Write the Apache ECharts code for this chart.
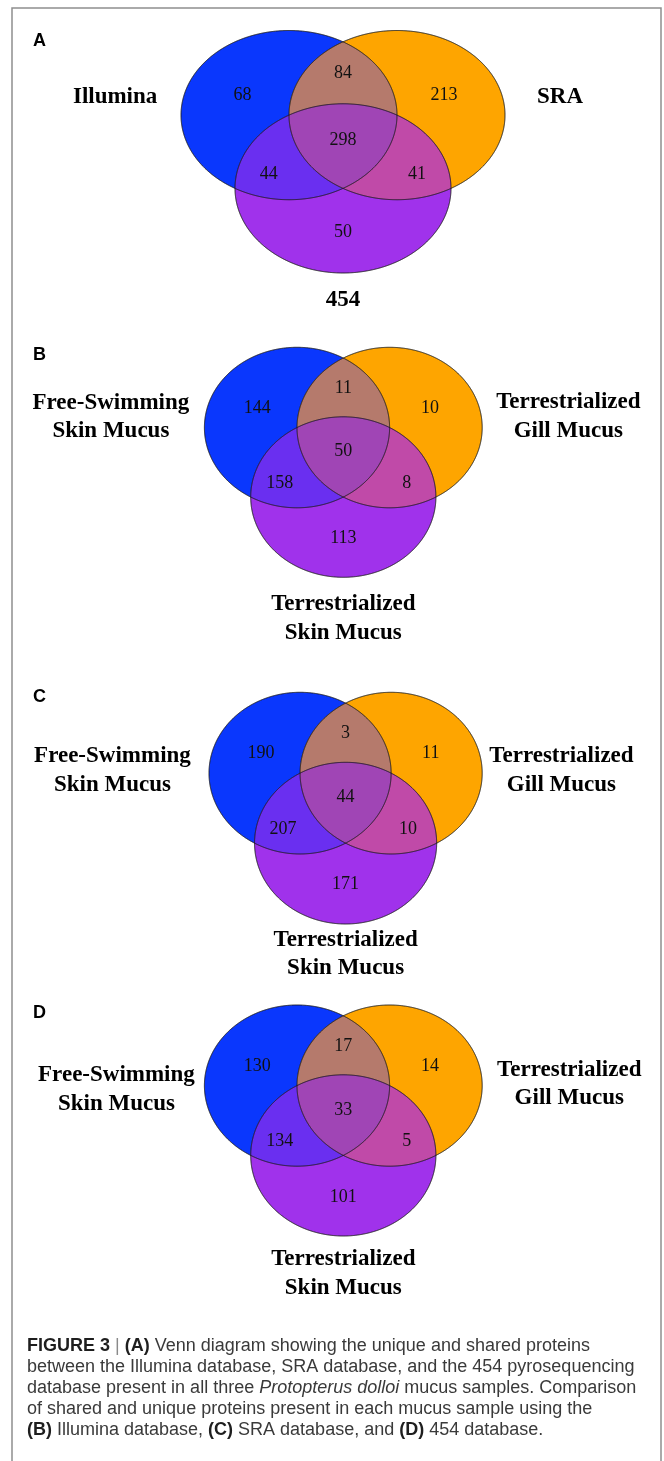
<!DOCTYPE html>
<html>
<head>
<meta charset="utf-8">
<script src="https://cdn.jsdelivr.net/npm/echarts@6/dist/echarts.min.js"></script>
<style>
  html, body { margin: 0; padding: 0; background: #fff; }
  #chart { width: 664px; height: 1461px; }
</style>
</head>
<body>
<div id="chart"></div>
<script>
// Region order in every count list:
// only set 1, only set 2, only set 3, 1∩2, 1∩3, 2∩3, 1∩2∩3
const panelLetters = ['A', 'B', 'C', 'D'];
const databaseSets = ['Illumina', 'SRA', '454'];
const mucusSets = ['Free-Swimming\nSkin Mucus', 'Terrestrialized\nGill Mucus', 'Terrestrialized\nSkin Mucus'];
const countsA = [68, 213, 50, 84, 44, 41, 298];
const countsB = [144, 10, 113, 11, 158, 8, 50];
const countsC = [190, 11, 171, 3, 207, 10, 44];
const countsD = [130, 14, 101, 17, 134, 5, 33];

const panels = [
  { letter: panelLetters[0], sets: databaseSets, counts: countsA },
  { letter: panelLetters[1], sets: mucusSets, counts: countsB },
  { letter: panelLetters[2], sets: mucusSets, counts: countsC },
  { letter: panelLetters[3], sets: mucusSets, counts: countsD }
];

// ---- layout -------------------------------------------------------------
// Each diagram lives in its own cartesian grid; circles have radius 1 in
// axis units and the grid stretches them into the wide ellipses.
const H3 = Math.sqrt(3) / 2;
const CENTERS = [[-0.5, 0], [0.5, 0], [0, -H3]];
const X_RANGE = [-1.5, 1.5];
const Y_RANGE = [-1 - H3, 1];

const GRIDS = [
  { left: 181,   top: 30.5,  width: 324,   height: 242.5 },
  { left: 204.4, top: 347.3, width: 277.8, height: 230 },
  { left: 209,   top: 692.3, width: 273.2, height: 231.7 },
  { left: 204.4, top: 1005,  width: 277.8, height: 231 }
];
const LETTER_Y = [41.5, 355, 697, 1013.5];

// set-name anchors (axis units) per panel: left, right, bottom
const SET_LABEL_POS = [
  [[-2.11, 0.218], [2.01, 0.218], [0, -2.18]],
  [[-2.51, 0.13],  [2.43, 0.14],  [0, -2.38]],
  [[-2.56, 0.03],  [2.37, 0.03],  [0, -2.24]],
  [[-2.45, -0.05], [2.44, 0.02],  [0, -2.33]]
];

const REGION_MEMBERS = [[0], [1], [2], [0, 1], [0, 2], [1, 2], [0, 1, 2]];
const REGION_ANCHORS = [
  [-0.93, 0.24], [0.935, 0.24], [0, -1.38],
  [0, 0.493], [-0.687, -0.694], [0.685, -0.694], [0, -0.3]
];
const REGION_COLORS = [
  '#0a37fd', '#fea500', '#a032eb',
  '#b57a6c', '#6a2ff0', '#c04aa8', '#a045b5'
];

const SERIF = '"Liberation Serif", "Times New Roman", serif';
const SANS = '"Liberation Sans", Arial, Helvetica, sans-serif';

// ---- geometry: outline of the intersection of several unit circles -----
const STEPS = 1440;
function inside(p, c) {
  const dx = p[0] - c[0], dy = p[1] - c[1];
  return dx * dx + dy * dy <= 1 + 1e-9;
}
function outline(members) {
  const pts = [];
  members.forEach(function (m) {
    const c = CENTERS[m];
    for (let s = 0; s < STEPS; s++) {
      const t = (s / STEPS) * Math.PI * 2;
      const p = [c[0] + Math.cos(t), c[1] + Math.sin(t)];
      if (members.every(function (o) { return o === m || inside(p, CENTERS[o]); })) pts.push(p);
    }
  });
  let mx = 0, my = 0;
  pts.forEach(function (p) { mx += p[0]; my += p[1]; });
  mx /= pts.length; my /= pts.length;
  pts.sort(function (a, b) {
    return Math.atan2(a[1] - my, a[0] - mx) - Math.atan2(b[1] - my, b[0] - mx);
  });
  return pts;
}
const REGION_OUTLINES = REGION_MEMBERS.map(outline);
const CIRCLE_OUTLINES = [[0], [1], [2]].map(outline);

// ---- series ---------------------------------------------------------------
function regionSeries(panel, gi) {
  return {
    type: 'custom',
    coordinateSystem: 'cartesian2d',
    xAxisIndex: gi, yAxisIndex: gi,
    clip: false, silent: true,
    data: panel.counts.map(function (c, k) { return [k, c]; }),
    renderItem: function (params, api) {
      const k = params.dataIndex;
      const pts = REGION_OUTLINES[k].map(function (p) { return api.coord(p); });
      const a = api.coord(REGION_ANCHORS[k]);
      return {
        type: 'group',
        children: [
          { type: 'polygon', shape: { points: pts }, z2: REGION_MEMBERS[k].length,
            style: { fill: REGION_COLORS[k], stroke: null } },
          { type: 'text', x: a[0], y: a[1], z2: 30,
            style: { text: String(api.value(1)), fontFamily: SERIF, fontSize: 18,
                     fill: '#111', align: 'center', verticalAlign: 'middle' } }
        ]
      };
    }
  };
}

function outlineSeries(panel, gi) {
  return {
    type: 'custom',
    coordinateSystem: 'cartesian2d',
    xAxisIndex: gi, yAxisIndex: gi,
    clip: false, silent: true,
    data: [[0, 0], [1, 0], [2, 0]],
    renderItem: function (params, api) {
      const pts = CIRCLE_OUTLINES[params.dataIndex].map(function (p) { return api.coord(p); });
      return { type: 'polygon', shape: { points: pts }, z2: 20,
               style: { fill: 'none', stroke: '#1c1c1c', lineWidth: 1 } };
    }
  };
}

function setLabelSeries(panel, gi) {
  return {
    type: 'custom',
    coordinateSystem: 'cartesian2d',
    xAxisIndex: gi, yAxisIndex: gi,
    clip: false, silent: true,
    data: panel.sets.map(function (s, i) { return [i, 0]; }),
    renderItem: function (params, api) {
      const i = params.dataIndex;
      const a = api.coord(SET_LABEL_POS[gi][i]);
      return { type: 'text', x: a[0], y: a[1], z2: 30,
               style: { text: panel.sets[i], fontFamily: SERIF, fontWeight: 'bold',
                        fontSize: 23, lineHeight: 28.5, fill: '#000',
                        align: 'center', verticalAlign: 'middle' } };
    }
  };
}

const grid = [], xAxis = [], yAxis = [], series = [];
panels.forEach(function (panel, gi) {
  grid.push(Object.assign({ containLabel: false }, GRIDS[gi]));
  xAxis.push({ type: 'value', gridIndex: gi, min: X_RANGE[0], max: X_RANGE[1], show: false });
  yAxis.push({ type: 'value', gridIndex: gi, min: Y_RANGE[0], max: Y_RANGE[1], show: false });
  series.push(regionSeries(panel, gi), outlineSeries(panel, gi), setLabelSeries(panel, gi));
});

// ---- frame, panel letters and caption -------------------------------------
const CAPTION =
  '{b|FIGURE 3}{sep| | }{b|(A)} Venn diagram showing the unique and shared proteins\n' +
  'between the Illumina database, SRA database, and the 454 pyrosequencing\n' +
  'database present in all three {i|Protopterus dolloi} mucus samples. Comparison\n' +
  'of shared and unique proteins present in each mucus sample using the\n' +
  '{b|(B)} Illumina database, {b|(C)} SRA database, and {b|(D)} 454 database.';

const graphic = [
  { type: 'rect', silent: true, shape: { x: 12, y: 8, width: 649, height: 1480 },
    style: { fill: 'none', stroke: '#8e8e8e', lineWidth: 1.5 } }
];
panels.forEach(function (panel, gi) {
  graphic.push({ type: 'text', silent: true, x: 33, y: LETTER_Y[gi],
    style: { text: panel.letter, fontFamily: SANS, fontWeight: 'bold', fontSize: 18,
             fill: '#000', verticalAlign: 'middle' } });
});
const capBase = { fontFamily: SANS, fontSize: 18, lineHeight: 21, fill: '#3a3a3a' };
graphic.push({
  type: 'text', silent: true, x: 27, y: 1335.5,
  style: Object.assign({}, capBase, {
    text: CAPTION, verticalAlign: 'top',
    rich: {
      b: Object.assign({}, capBase, { fontWeight: 'bold', fill: '#1e1e1e' }),
      i: Object.assign({}, capBase, { fontStyle: 'italic' }),
      sep: Object.assign({}, capBase, { fill: '#8a8a8a' })
    }
  })
});

const chart = echarts.init(document.getElementById('chart'), null, { renderer: 'canvas' });
chart.setOption({
  animation: false,
  backgroundColor: '#ffffff',
  grid: grid,
  xAxis: xAxis,
  yAxis: yAxis,
  series: series,
  graphic: graphic
});
</script>
</body>
</html>
